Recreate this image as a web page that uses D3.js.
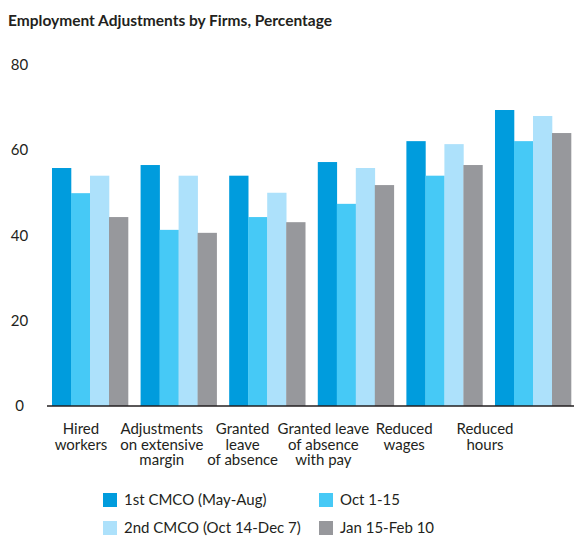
<!DOCTYPE html>
<html>
<head>
<meta charset="utf-8">
<script src="https://cdn.jsdelivr.net/npm/d3@7"></script>
<style>
  body { margin: 0; background: #fff; }
  text { font-family: Lato, "Open Sans", sans-serif; fill: #231f20; }
</style>
</head>
<body>
<div id="chart-area"></div>
<script>
const SVG_WIDTH = 574;
const SVG_HEIGHT = 539;

const categories = ["Hired workers", "Adjustments on extensive margin", "Granted leave of absence",
  "Granted leave of absence with pay", "Reduced wages", "Reduced hours"];
const categoryLines = [
  ["Hired", "workers"],
  ["Adjustments", "on extensive", "margin"],
  ["Granted", "leave", "of absence"],
  ["Granted leave", "of absence", "with pay"],
  ["Reduced", "wages"],
  ["Reduced", "hours"]
];
const seriesNames = ["1st CMCO (May-Aug)", "Oct 1-15", "2nd CMCO (Oct 14-Dec 7)", "Jan 15-Feb 10"];
const firstCmco = [55.8, 56.5, 54, 57.2, 62.1, 69.4];
const oct1to15 = [49.9, 41.3, 44.3, 47.4, 54, 62.1];
const secondCmco = [54, 54, 50, 55.8, 61.4, 68];
const jan15Feb10 = [44.3, 40.6, 43.1, 51.8, 56.5, 64];
const yTicks = [0, 20, 40, 60, 80];

const seriesValues = [firstCmco, oct1to15, secondCmco, jan15Feb10];
const colors = ["#009cdd", "#46c9f6", "#ade1fb", "#97989c"];

const svg = d3.select("#chart-area").append("svg")
  .attr("width", SVG_WIDTH).attr("height", SVG_HEIGHT);

svg.append("text")
  .attr("x", 8).attr("y", 26)
  .attr("font-size", "15.5px").attr("font-weight", "bold")
  .text("Employment Adjustments by Firms, Percentage");

var x = d3.scaleBand().domain(categories).range([45.7, 577.3]).paddingInner(0.142).paddingOuter(0.071);
var xs = d3.scaleBand().domain(d3.range(seriesNames.length)).range([0, x.bandwidth()]);
// labels sit on their own, slightly tighter spacing
var xLab = d3.scaleBand().domain(categories).range([40.6, 525.4]);
var y = d3.scaleLinear().domain([0, 80]).range([406, 64.8]);

const yAxisCall = d3.axisLeft(y).tickValues(yTicks).tickSize(0).tickPadding(0);
const yAxisGroup = svg.append("g").attr("transform", "translate(19.5,0)").call(yAxisCall);
yAxisGroup.select(".domain").remove();
yAxisGroup.selectAll("text")
  .attr("text-anchor", "middle").attr("x", 0)
  .attr("font-size", "15px").attr("font-family", null).style("fill", "#231f20");

const groups = svg.selectAll("g.cat").data(categories).enter().append("g")
  .attr("class", "cat")
  .attr("transform", d => `translate(${x(d)},0)`);

groups.selectAll("rect")
  .data((d, i) => seriesValues.map((s, j) => ({ j: j, v: s[i] })))
  .enter().append("rect")
  .attr("x", d => xs(d.j))
  .attr("width", xs.bandwidth() + 0.3)
  .attr("y", d => y(d.v))
  .attr("height", d => y(0) - y(d.v))
  .attr("fill", d => colors[d.j]);

svg.append("line")
  .attr("x1", 47).attr("x2", 574)
  .attr("y1", y(0)).attr("y2", y(0))
  .attr("stroke", "#231f20").attr("stroke-width", 1.5);

categories.forEach((c, i) => {
  const t = svg.append("text")
    .attr("text-anchor", "middle")
    .attr("font-size", "15px")
    .attr("x", xLab(c) + xLab.bandwidth() / 2)
    .attr("y", 434);
  categoryLines[i].forEach((line, k) => {
    t.append("tspan")
      .attr("x", xLab(c) + xLab.bandwidth() / 2)
      .attr("y", 434 + k * 15.7)
      .text(line);
  });
});

const legendPos = [[103, 493], [319, 493], [103, 521], [319, 521]];
seriesNames.forEach((name, i) => {
  const row = svg.append("g").attr("transform", `translate(${legendPos[i][0]},${legendPos[i][1]})`);
  row.append("rect").attr("width", 14).attr("height", 14).attr("fill", colors[i]);
  row.append("text").attr("x", 21).attr("y", 12).attr("font-size", "15px").text(name);
});
</script>
</body>
</html>
